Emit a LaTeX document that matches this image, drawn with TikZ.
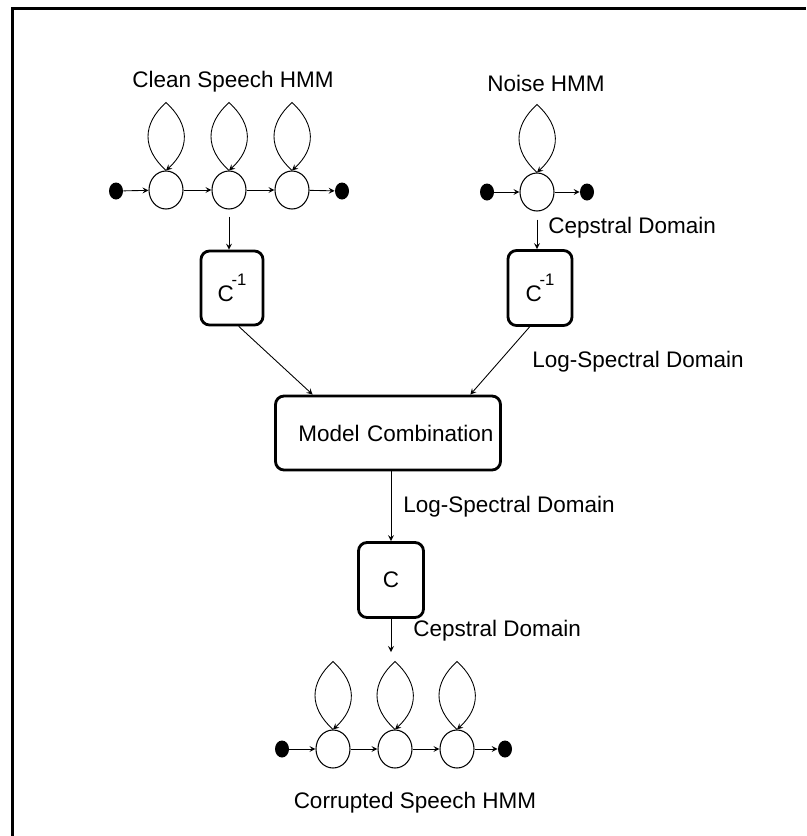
\documentclass[tikz,border=0pt]{standalone}
\usepackage{fontspec}
\setmainfont{Liberation Sans}
\usetikzlibrary{arrows.meta, calc, shapes.geometric}

\begin{document}
\begin{tikzpicture}[x=0.02cm, y=-0.02cm,
  every node/.style={font=\fontsize{12.8}{15}\selectfont},
  state/.style={draw, ellipse, line width=0.6pt, minimum width=0.68cm, minimum height=0.76cm, inner sep=0pt},
  dot/.style={fill, ellipse, minimum width=0.28cm, minimum height=0.34cm, inner sep=0pt},
  block/.style={draw, line width=1.6pt, rounded corners=0.17cm, inner sep=0pt},
  lbl/.style={inner sep=0pt},
  conn/.style={->, >=stealth, line width=0.5pt}]
% Loop size
\pgfmathsetmacro{\loopW}{24}
\pgfmathsetmacro{\loopC}{22}
\pgfmathsetmacro{\loopH}{68}

\useasboundingbox (0,0) rectangle (806,836);
% Frame
\draw[line width=1.7pt] (12.5,836) -- (12.5,8.5) -- (806,8.5);

% Clean speech HMM
\node[lbl] (cleanlbl) at (233,82) {Clean Speech HMM};
\node[dot] (csin) at (116,191) {};
\node[state] (cs1) at (166,190) {};
\node[state] (cs2) at (229,190) {};
\node[state] (cs3) at (292,190) {};
\node[dot] (csout) at (342,191) {};
\draw[conn] (csin) -- (cs1);
\draw[conn] (cs1) -- (cs2);
\draw[conn] (cs2) -- (cs3);
\draw[conn] (cs3) -- (csout);

% Noise HMM
\node[lbl] (noiselbl) at (546,83) {Noise HMM};
\node[dot] (nsin) at (487,192) {};
\node[state] (ns1) at (537,192) {};
\node[dot] (nsout) at (587,192) {};
\draw[conn] (nsin) -- (ns1);
\draw[conn] (ns1) -- (nsout);

% Transforms
\node[block, minimum width=1.24cm, minimum height=1.48cm] (cinv1) at (232,288) {C\hspace{-0.1em}\raisebox{9pt}{\fontsize{9.5}{10}\selectfont -1}};
\node[block, minimum width=1.28cm, minimum height=1.5cm] (cinv2) at (540,288) {C\hspace{-0.1em}\raisebox{9pt}{\fontsize{9.5}{10}\selectfont -1}};
\draw[conn, shorten <=0.14cm] (cs2.south) -- (cs2.south |- cinv1.north);
\draw[conn, shorten <=0.16cm] (ns1.south) -- (ns1.south |- cinv2.north);
\node[lbl, anchor=west] (ceplbl1) at (548,228) {Cepstral Domain};
\node[lbl, anchor=west] (loglbl1) at (532,362) {Log-Spectral Domain};

% Model combination
\node[block, minimum width=4.5cm, minimum height=1.48cm, text width=4.22cm, align=right, inner xsep=0.14cm] (comb) at (388,433) {Model Combination};
\draw[conn] (cinv1.-80) -- (comb.153);
\draw[conn] (cinv2.255) -- (comb.25);
\node[lbl, anchor=west] (loglbl2) at (403,507) {Log-Spectral Domain};

\node[block, minimum width=1.3cm, minimum height=1.5cm] (cbox) at (391,580) {C};
\draw[conn] (comb.south -| cbox.north) -- (cbox.north);
\coordinate (cend) at (391,652);
\draw[conn] (cbox.south) -- (cend);
\node[lbl, anchor=west] (ceplbl2) at (413,631) {Cepstral Domain};

% Corrupted speech HMM
\node[dot] (crin) at (282,749) {};
\node[state] (cr1) at (333,749) {};
\node[state] (cr2) at (395,749) {};
\node[state] (cr3) at (457,749) {};
\node[dot] (crout) at (505,749) {};
\draw[conn] (crin) -- (cr1);
\draw[conn] (cr1) -- (cr2);
\draw[conn] (cr2) -- (cr3);
\draw[conn] (cr3) -- (crout);
\node[lbl] (corrlbl) at (415,803) {Corrupted Speech HMM};

% Self loops
\foreach \s in {cs1,cs2,cs3,ns1,cr1,cr2,cr3} {
  \coordinate (\s top) at ($(\s.north)+(0,-\loopH)$);
  \draw[conn] (\s.north) .. controls +(-\loopW,-\loopC) and +(-\loopW,\loopC) .. (\s top)
    .. controls +(\loopW,\loopC) and +(\loopW,-\loopC) .. (\s.north);
}
\end{tikzpicture}
\end{document}
